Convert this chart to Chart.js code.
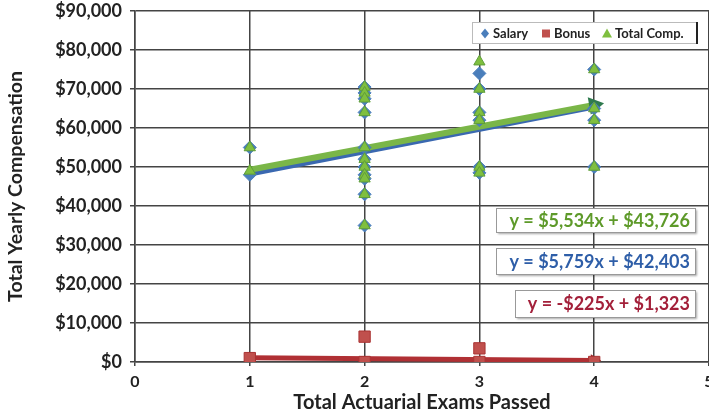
<!DOCTYPE html>
<html>
<head>
<meta charset="utf-8">
<script src="https://cdn.jsdelivr.net/npm/chart.js@4/dist/chart.umd.min.js"></script>
<style>
  html, body { margin: 0; padding: 0; background: #fff; overflow: hidden; }
  #wrap { width: 709px; height: 419px; overflow: hidden; }
</style>
</head>
<body>
<div id="wrap"><canvas id="myChart" width="719" height="419"></canvas></div>
<script>
// exams passed for each employee, with salary / bonus / total comp
const salaryX = [1, 1, 2, 2, 2, 2, 2, 2, 2, 2, 2, 2, 2, 3, 3, 3, 3, 3, 3, 4, 4, 4, 4]
const salaryY = [55000, 48000, 70500, 69000, 67500, 64000, 55000, 52000, 50000, 48000, 47000, 43000, 35000,
                 74000, 70000, 64000, 62000, 50000, 48500, 75000, 65000, 62000, 50000]
const bonusX = [1, 2, 2, 3, 3, 4]
const bonusY = [1000, 6500, 0, 3500, 0, 0]
const totalX = [1, 1, 2, 2, 2, 2, 2, 2, 2, 2, 2, 2, 2, 3, 3, 3, 3, 3, 3, 4, 4, 4, 4]
const totalY = [55000, 49000, 70500, 69000, 67500, 64000, 55000, 52000, 50000, 48000, 47000, 43000, 35000,
                77000, 70000, 64000, 62000, 50000, 48500, 75000, 65000, 62000, 50000]

// trend line end points (x = 1 and x = 4)
const trendX = [1, 4]
const totalTrend = [49300, 65900]
const salaryTrend = [48200, 65400]
const bonusTrend = [1100, 400]

const equations = ['y = $5,534x + $43,726', 'y = $5,759x + $42,403', 'y = -$225x + $1,323']
const legendLabels = ['Salary', 'Bonus', 'Total Comp.']
const yTicks = [0, 10000, 20000, 30000, 40000, 50000, 60000, 70000, 80000, 90000]

const GREEN = '#7fbf3f'
const BLUE = '#4a7ebb'
const RED = '#c0504d'
const FONT = 'Lato, "Open Sans", sans-serif'

const pts = (xs, ys) => xs.map((x, i) => ({ x: x, y: ys[i] }))

const overlay = {
  id: 'overlay',
  afterDraw(chart) {
    const ctx = chart.ctx
    ctx.save()
    // legend box
    const lx = 472, ly = 22, lw = 697 - lx, lh = 21
    ctx.fillStyle = '#fff'
    ctx.fillRect(lx, ly, lw, lh)
    ctx.strokeStyle = '#bbb'
    ctx.lineWidth = 1
    ctx.strokeRect(lx + 0.5, ly + 0.5, lw, lh)
    ctx.strokeStyle = '#222'
    ctx.lineWidth = 2
    ctx.beginPath(); ctx.moveTo(lx + lw, ly); ctx.lineTo(lx + lw, ly + lh + 1); ctx.stroke()
    ctx.font = 'bold 13px ' + FONT
    ctx.textBaseline = 'middle'
    const cy = ly + lh / 2 + 1
    const marks = [[485, BLUE, 'd'], [546, RED, 's'], [607, GREEN, 't']]
    marks.forEach((m, i) => {
      ctx.fillStyle = m[1]
      ctx.beginPath()
      if (m[2] === 'd') { ctx.moveTo(m[0], cy - 5); ctx.lineTo(m[0] + 4, cy); ctx.lineTo(m[0], cy + 5); ctx.lineTo(m[0] - 4, cy) }
      else if (m[2] === 's') { ctx.rect(m[0] - 4, cy - 4, 8, 8) }
      else { ctx.moveTo(m[0], cy - 5); ctx.lineTo(m[0] + 5, cy + 4); ctx.lineTo(m[0] - 5, cy + 4) }
      ctx.closePath(); ctx.fill()
      ctx.fillStyle = '#222'
      ctx.fillText(legendLabels[i], m[0] + 8, cy)
    })
    // equation boxes
    const boxes = [[496, 208, 24, '#5e9a2a'], [496, 248, 26, '#2e5ea8'], [515, 290, 27, '#a3203a']]
    ctx.font = 'bold 18px ' + FONT
    boxes.forEach((b, i) => {
      const w = 695 - b[0]
      ctx.shadowColor = 'rgba(0,0,0,0.35)'
      ctx.shadowOffsetX = 2; ctx.shadowOffsetY = 2; ctx.shadowBlur = 2
      ctx.fillStyle = '#fff'
      ctx.fillRect(b[0], b[1], w, b[2])
      ctx.shadowColor = 'transparent'
      ctx.strokeStyle = '#999'
      ctx.lineWidth = 1
      ctx.strokeRect(b[0] + 0.5, b[1] + 0.5, w, b[2])
      ctx.fillStyle = b[3]
      ctx.textAlign = 'right'
      ctx.fillText(equations[i], b[0] + w - 5, b[1] + b[2] / 2 + 1)
    })
    ctx.restore()
  }
}

new Chart('myChart', {
  type: 'scatter',
  data: {
    datasets: [
      { label: legendLabels[2], data: pts(totalX, totalY), order: 0, pointStyle: 'triangle',
        pointRadius: 6.5, backgroundColor: GREEN, borderColor: '#5f9e3a', borderWidth: 1 },
      { label: legendLabels[0], data: pts(salaryX, salaryY), order: 1, pointStyle: 'rectRot',
        pointRadius: 6.5, backgroundColor: BLUE, borderColor: BLUE, borderWidth: 1 },
      { label: legendLabels[1], data: pts(bonusX, bonusY), order: 2, pointStyle: 'rect',
        pointRadius: 8, backgroundColor: RED, borderColor: '#a33', borderWidth: 1 },
      { label: 'Total trend', data: pts(trendX, totalTrend), order: 3, showLine: true,
        borderColor: '#7ab648', borderWidth: 6, pointStyle: 'triangle', pointRadius: [0, 10],
        pointRotation: [0, 80], pointBackgroundColor: '#2f7a4e', pointBorderWidth: 0 },
      { label: 'Salary trend', data: pts(trendX, salaryTrend), order: 4, showLine: true,
        borderColor: '#3a68b0', borderWidth: 5, pointRadius: 0 },
      { label: 'Bonus trend', data: pts(trendX, bonusTrend), order: 5, showLine: true,
        borderColor: '#b03034', borderWidth: 5, pointStyle: 'triangle', pointRadius: [0, 7],
        pointRotation: [0, 91], pointBackgroundColor: '#9a2a2a', pointBorderWidth: 0 }
    ]
  },
  options: {
    responsive: false,
    animation: false,
    layout: { padding: { top: 11, right: 0, left: 0, bottom: 0 } },
    plugins: { legend: { display: false }, tooltip: { enabled: false } },
    scales: {
      x: {
        type: 'linear', min: 0, max: 5,
        ticks: { stepSize: 1, color: '#222', font: { family: FONT, size: 16, weight: 'bold' }, padding: 6 },
        grid: { color: '#444', lineWidth: 1.5, tickLength: 4 },
        border: { color: '#444', width: 1.5 },
        title: { display: true, text: 'Total Actuarial Exams Passed', color: '#222',
          font: { family: FONT, size: 20, weight: 'bold' }, padding: { top: 0 } },
        afterFit: s => { s.height = 57; s.paddingRight = 0 }
      },
      y: {
        type: 'linear', min: 0, max: 90000,
        afterBuildTicks: s => { s.ticks = yTicks.map(v => ({ value: v })) },
        ticks: { color: '#222', font: { family: FONT, size: 18, weight: 'bold' }, padding: 8,
          callback: v => '$' + v.toLocaleString('en-US') },
        grid: { color: '#444', lineWidth: 1.5, tickLength: 5 },
        border: { color: '#444', width: 1.5 },
        title: { display: true, text: 'Total Yearly Compensation', color: '#222',
          font: { family: FONT, size: 19.5, weight: 'bold' }, padding: { bottom: 2 } },
        afterFit: s => { s.width = 135; s.paddingTop = 0; s.paddingBottom = 0 }
      }
    }
  },
  plugins: [overlay]
})
</script>
</body>
</html>
